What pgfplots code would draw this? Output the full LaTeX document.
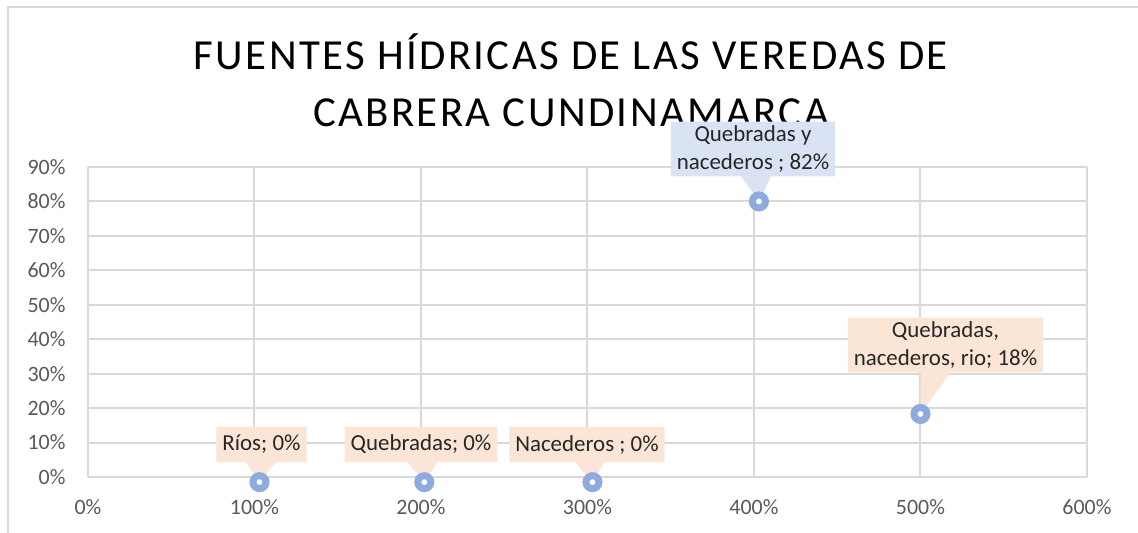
\documentclass[border=0pt]{standalone}
\usepackage{pgfplots}
\pgfplotsset{compat=1.18}
\usepackage{fontspec}
\setmainfont{Carlito}
\usetikzlibrary{shapes.callouts}
\definecolor{gridc}{RGB}{217,217,217}
\definecolor{tickc}{RGB}{89,89,89}
\definecolor{markc}{RGB}{143,170,220}
\definecolor{peach}{RGB}{251,229,214}
\definecolor{lblue}{RGB}{218,227,243}
\definecolor{lblt}{RGB}{38,38,38}
\tikzset{mycallout/.style={rectangle callout, text=lblt, font=\fontsize{23}{28}\selectfont, inner xsep=6bp, callout pointer width=30bp}}
\begin{document}
\begin{tikzpicture}
\useasboundingbox (0bp,0bp) rectangle (1138bp,533bp);
\draw[gridc, line width=2bp] (8bp,0bp) -- (8bp,526bp) -- (1138bp,526bp);
\node[anchor=base, font=\fontsize{43}{52}\selectfont\addfontfeature{LetterSpace=5.6}, text=black, inner sep=0pt] at (571bp,463bp) {FUENTES HÍDRICAS DE LAS VEREDAS DE};
\node[anchor=base, font=\fontsize{43}{52}\selectfont\addfontfeature{LetterSpace=5.6}, text=black, inner sep=0pt] at (571bp,406bp) {CABRERA CUNDINAMARCA};
\begin{axis}[
  at={(88bp,56bp)}, anchor=south west,
  scale only axis, width=999bp, height=310bp,
  xmin=0, xmax=6, ymin=0, ymax=0.9,
  clip=false,
  xtick={0,1,2,3,4,5,6},
  xticklabels={0\%,100\%,200\%,300\%,400\%,500\%,600\%},
  ytick={0,0.1,0.2,0.3,0.4,0.5,0.6,0.7,0.8,0.9},
  yticklabels={0\%,10\%,20\%,30\%,40\%,50\%,60\%,70\%,80\%,90\%},
  grid=major,
  major grid style={gridc, line width=2bp},
  axis line style={draw=none},
  major tick length=0pt,
  tick label style={font=\fontsize{22}{26}\selectfont, text=tickc},
  xticklabel style={yshift=-19bp},
  yticklabel style={xshift=-19bp},
]
\coordinate (p1) at (axis cs:1.03,-0.015);
\coordinate (p2) at (axis cs:2.02,-0.015);
\coordinate (p3) at (axis cs:3.03,-0.015);
\coordinate (p4) at (axis cs:4.03,0.80);
\coordinate (p5) at (axis cs:5.0,0.183);
\node[mycallout, fill=peach, minimum height=35bp, callout absolute pointer={(p1)}] at (axis cs:1.042,0.0943) {Ríos; 0\%};
\node[mycallout, fill=peach, minimum height=35bp, callout absolute pointer={(p2)}] at (axis cs:2.0,0.0943) {Quebradas; 0\%};
\node[mycallout, fill=peach, minimum height=35bp, callout absolute pointer={(p3)}] at (axis cs:2.997,0.0943) {Nacederos ; 0\%};
\node[mycallout, fill=lblue, inner ysep=4bp, align=center, callout absolute pointer={(p4)}] at (axis cs:3.994,0.952) {Quebradas y\\nacederos ; 82\%};
\node[mycallout, fill=peach, inner ysep=4bp, align=center, callout absolute pointer={(p5)}] at (axis cs:5.15,0.383) {Quebradas,\\nacederos, rio; 18\%};
\addplot[only marks, mark=*, mark size=6.5bp, mark options={draw=markc, fill=white, line width=7bp}]
  coordinates {(1.03,-0.015) (2.02,-0.015) (3.03,-0.015) (4.03,0.80) (5.0,0.183)};
\end{axis}
\end{tikzpicture}
\end{document}
